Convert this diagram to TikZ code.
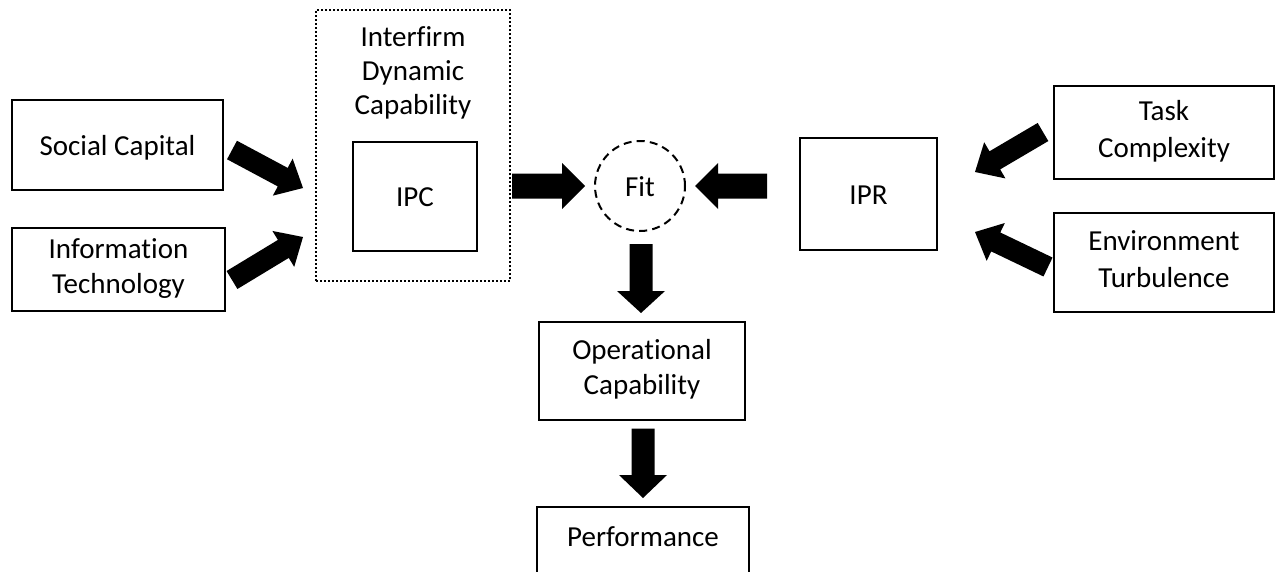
\documentclass[tikz,border=0pt]{standalone}
\usepackage{fontspec}
\setmainfont{Carlito}[Ligatures=NoCommon]
\usetikzlibrary{calc}

% Filled block arrow from #1 to #2: shaft half width #3, head half width #4, head length #5
\newcommand\blockarrow[5]{%
  \coordinate (bhead) at ($(#2)!#5!(#1)$);
  \fill[black] ($(#1)!#3!90:(#2)$) -- ($(bhead)!#3!90:(#2)$) -- ($(bhead)!#4!90:(#2)$)
    -- (#2) -- ($(bhead)!#4!-90:(#2)$) -- ($(bhead)!#3!-90:(#2)$) -- ($(#1)!#3!-90:(#2)$) -- cycle;
}

\begin{document}
\begin{tikzpicture}[x=1pt,y=-1pt,
  every node/.style={font=\fontsize{29}{35}\selectfont, align=center, inner sep=0pt,
    % line box as a word processor sets it: ascent plus line gap above, descent below
    execute at begin node={\rule{0pt}{0.97em}},
    execute at end node={\rule[-0.25em]{0pt}{0.25em}}},
  wide/.style={font=\fontsize{29}{37}\selectfont},
  box/.style={draw, line width=2pt, rectangle},
  groupbox/.style={draw, line width=2pt, dash pattern=on 2pt off 2pt, rectangle},
  fitcircle/.style={draw, line width=2pt, dash pattern=on 8pt off 5.2pt, circle, minimum size=90pt},
  lbl/.style={}]
\useasboundingbox (0,0) rectangle (1276,571);
\fill[white] (0,0) rectangle (1276,571);
\clip (0,0) rectangle (1276,571);

% Left-hand antecedents
\node[box, minimum width=211pt, minimum height=90pt] (sc) at (117.5,145) {Social Capital};
\node[box, minimum width=213pt, minimum height=83pt] (it) at (118.5,269.5) {Information\\Technology};

% Interfirm dynamic capability group with IPC inside
\node[groupbox, minimum width=194pt, minimum height=271pt] (dyn) at (413,145.5) {};
\node[lbl, font=\fontsize{29}{34}\selectfont] (dyntitle) at (413,74) {Interfirm\\Dynamic\\Capability};
\node[box, minimum width=124pt, minimum height=109pt] (ipc) at (415,196.5) {IPC};

% Fit
\node[fitcircle] (fit) at (640,186) {Fit};

% IPR and its drivers
\node[box, minimum width=137pt, minimum height=112pt] (ipr) at (868.5,194) {IPR};
\node[box, wide, minimum width=220pt, minimum height=93pt] (task) at (1164,132.5) {Task\\Complexity};
\node[box, wide, minimum width=220pt, minimum height=99pt] (env) at (1164,262.5) {Environment\\Turbulence};

% Outcomes
\node[box, minimum width=206pt, minimum height=98pt] (op) at (642,370.5) {Operational\\Capability};
\node[box, minimum width=212pt, minimum height=72pt, anchor=north] (perf) at (643,506) {};
\node[lbl] (perftext) at (643,536) {Performance};

% Arrow end points
\coordinate (a1s) at (232,150);  \coordinate (a1e) at (303,188);
\coordinate (a2s) at (232,280);  \coordinate (a2e) at (303,237);
\coordinate (a3s) at ($(dyn.east)+(1,40.5)$);  \coordinate (a3e) at ($(fit.west)+(-9,0)$);
\coordinate (a4s) at ($(ipr.west)+(-32,-8)$);  \coordinate (a4e) at ($(fit.east)+(9,0)$);
\coordinate (a5s) at (1043,132); \coordinate (a5e) at (975,172);
\coordinate (a6s) at (1048,267); \coordinate (a6e) at (975,232);
\coordinate (a7s) at ($(fit.south)+(1,12)$);  \coordinate (a7e) at ($(op.north)+(-1,-7.5)$);
\coordinate (a8s) at ($(op.south)+(1,8)$);    \coordinate (a8e) at ($(perf.north)+(0,-8)$);

\blockarrow{a1s}{a1e}{10.5pt}{21pt}{23pt}
\blockarrow{a2s}{a2e}{10.5pt}{21pt}{23pt}
\blockarrow{a3s}{a3e}{12.5pt}{23pt}{23pt}
\blockarrow{a4s}{a4e}{12.5pt}{23pt}{23pt}
\blockarrow{a5s}{a5e}{10.5pt}{21pt}{23pt}
\blockarrow{a6s}{a6e}{10.5pt}{21pt}{23pt}
\blockarrow{a7s}{a7e}{11.5pt}{24pt}{22pt}
\blockarrow{a8s}{a8e}{11.5pt}{24pt}{23pt}
\end{tikzpicture}
\end{document}
